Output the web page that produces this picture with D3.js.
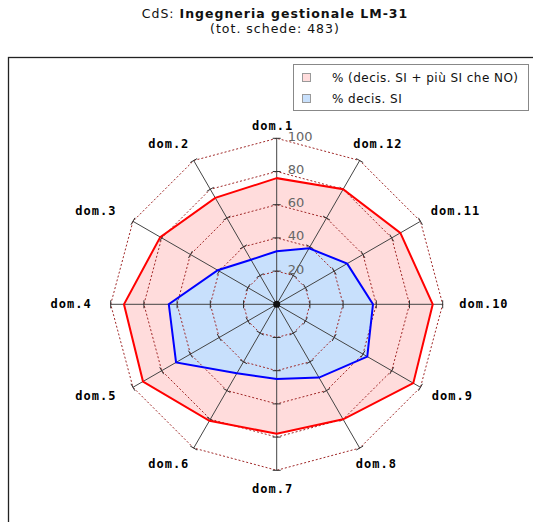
<!DOCTYPE html>
<html><head><meta charset="utf-8">
<script src="https://cdn.jsdelivr.net/npm/d3@7"></script>
<style>body{margin:0;background:#fff}svg{display:block}</style>
</head><body>
<script>
const categories = ["dom.1","dom.2","dom.3","dom.4","dom.5","dom.6","dom.7","dom.8","dom.9","dom.10","dom.11","dom.12"];
const seriesNames = ["% (decis. SI + più SI che NO)", "% decis. SI"];
const valuesSiPiuSi = [76, 74, 81, 92, 93, 81, 78, 80, 95, 94, 86, 80];
const valuesSi = [32, 31, 41, 65, 70, 48, 45, 51, 63, 58, 49, 39];
const tickValues = [20, 40, 60, 80, 100];
const titleNormal = "CdS: ";
const titleBold = "Ingegneria gestionale LM-31";
const subtitle = "(tot. schede: 483)";

const W = 533, H = 522;
const cx = 276.7, cy = 304.3, R = 166;
const svg = d3.select("body").append("svg").attr("width", W).attr("height", H);

// title
const t = svg.append("text").attr("x", 275).attr("y", 18).attr("text-anchor", "middle")
  .style("font-family", "DejaVu Sans").style("font-size", "12.5px").style("letter-spacing", "1px").attr("fill", "#111");
t.append("tspan").text(titleNormal);
t.append("tspan").style("font-weight", "bold").text(titleBold);
svg.append("text").attr("x", 275).attr("y", 33).attr("text-anchor", "middle")
  .style("font-family", "DejaVu Sans").style("font-size", "12.5px").style("letter-spacing", "1px").attr("fill", "#111").text(subtitle);

// frame
svg.append("rect").attr("x", 8.5).attr("y", 57.5).attr("width", 700).attr("height", 700)
  .attr("fill", "none").attr("stroke", "#222").attr("stroke-width", 1.3);

const r = d3.scaleLinear().domain([0, 100]).range([0, R]);
const n = categories.length;
const angle = d3.scaleLinear().domain([0, n]).range([0, -2 * Math.PI]); // counterclockwise

const g = svg.append("g").attr("transform", `translate(${cx},${cy})`);
const radial = d3.lineRadial().angle((d, i) => angle(i)).radius(d => r(d)).curve(d3.curveLinearClosed);

// fills
g.append("path").attr("d", radial(valuesSiPiuSi)).attr("fill", "#ffdcdc");
g.append("path").attr("d", radial(valuesSi)).attr("fill", "#c8e0fc");

// grid rings
tickValues.forEach(tv => {
  g.append("path").attr("d", radial(categories.map(() => tv)))
    .attr("fill", "none").attr("stroke", "#a02828").attr("stroke-width", 1).attr("stroke-dasharray", "2,2");
});

// axes + ticks
categories.forEach((c, i) => {
  const a = angle(i);
  const ux = Math.sin(a), uy = -Math.cos(a);
  g.append("line").attr("x1", 0).attr("y1", 0).attr("x2", r(100) * ux).attr("y2", r(100) * uy)
    .attr("stroke", "#444").attr("stroke-width", 1);
  tickValues.forEach(tv => {
    const bx = r(tv) * ux, by = r(tv) * uy;
    g.append("line").attr("x1", bx - 4 * uy).attr("y1", by + 4 * ux).attr("x2", bx + 4 * uy).attr("y2", by - 4 * ux)
      .attr("stroke", "#333").attr("stroke-width", 1);
  });
});

// outlines
g.append("path").attr("d", radial(valuesSiPiuSi)).attr("fill", "none").attr("stroke", "#ff0000").attr("stroke-width", 2);
g.append("path").attr("d", radial(valuesSi)).attr("fill", "none").attr("stroke", "#0000ff").attr("stroke-width", 2);
g.append("circle").attr("r", 3.5).attr("fill", "#111");

// tick labels on dom.1 axis
tickValues.forEach(tv => {
  g.append("text").attr("x", 11).attr("y", -r(tv) - 1).attr("dominant-baseline", "middle")
    .style("font-family", "DejaVu Sans").style("font-size", "13px").attr("fill", "#666").text(tv);
});

// category labels
categories.forEach((c, i) => {
  const a = angle(i);
  const ux = Math.sin(a), uy = -Math.cos(a);
  const gap = Math.abs(uy + 1) < 1e-6 ? 12 : 19;
  const lx = (R + gap) * ux, ly = (R + gap) * uy;
  const txt = g.append("text").attr("y", ly).attr("dominant-baseline", "middle")
    .style("font-family", "DejaVu Sans Mono").style("font-weight", "bold").style("font-size", "12px")
    .style("letter-spacing", "1px").attr("fill", "#000").text(c);
  const w = txt.node().getComputedTextLength();
  const f = Math.max(0, Math.min(1, 0.6 - 0.55 * ux));
  txt.attr("x", lx - f * w);
});

// legend
const lg = svg.append("g");
lg.append("rect").attr("x", 293.5).attr("y", 64.5).attr("width", 235).attr("height", 46)
  .attr("fill", "#fff").attr("stroke", "#888");
const legendFills = ["#ffdcdc", "#c8e0fc"];
seriesNames.forEach((s, k) => {
  const y0 = 73.5 + k * 21;
  lg.append("rect").attr("x", 302.5).attr("y", y0).attr("width", 8).attr("height", 8)
    .attr("fill", legendFills[k]).attr("stroke", "#999");
  lg.append("text").attr("x", 332).attr("y", y0 + 8.5)
    .style("font-family", "DejaVu Sans").style("font-size", "12px").style("letter-spacing", "0.45px")
    .attr("fill", "#111").text(s);
});
</script>
</body></html>
